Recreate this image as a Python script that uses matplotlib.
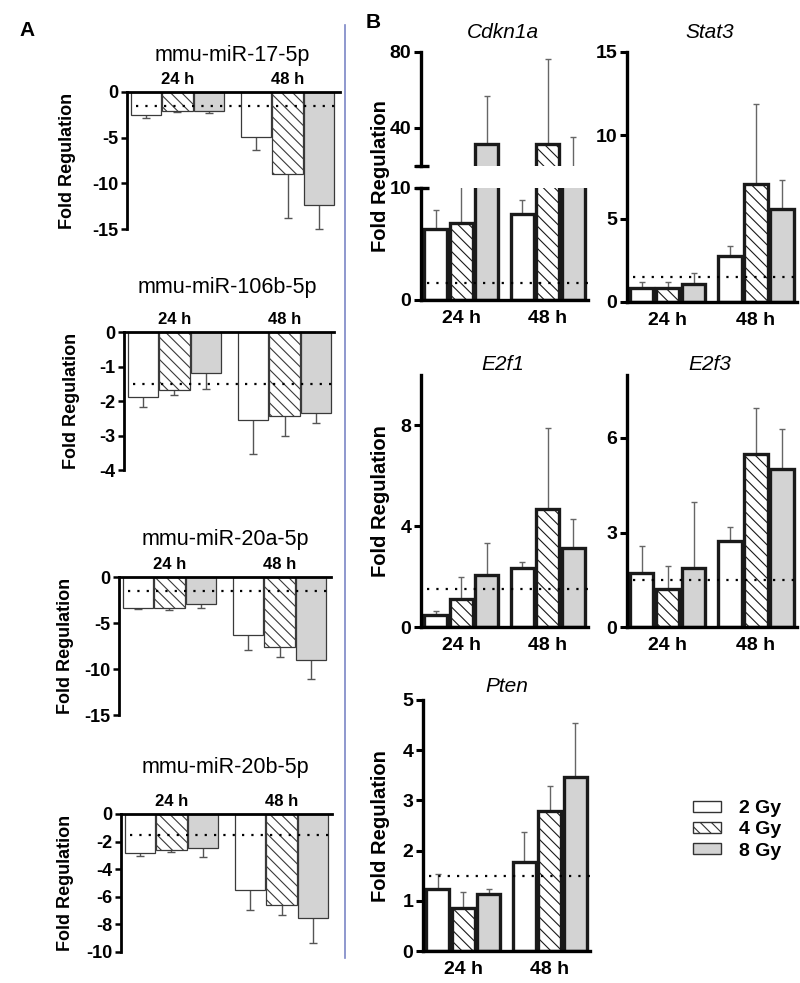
import matplotlib
matplotlib.use("Agg")
import matplotlib.pyplot as plt
from matplotlib.patches import Patch
from matplotlib.lines import Line2D
import numpy as np

plt.rcParams['font.family'] = ['Liberation Sans', 'DejaVu Sans']
plt.rcParams['axes.unicode_minus'] = False
plt.rcParams['hatch.linewidth'] = 0.8

# ---------------- data ----------------
groups = ['24 h', '48 h']
doses = ['2 Gy', '4 Gy', '8 Gy']

# Panel A (order: 24h 2/4/8 Gy, 48h 2/4/8 Gy)
mir17_title = 'mmu-miR-17-5p'
mir17_val = [-2.5, -2.1, -2.1, -4.9, -8.95, -12.4]
mir17_sem = [0.3, 0.1, 0.2, 1.5, 4.9, 2.65]

mir106b_title = 'mmu-miR-106b-5p'
mir106b_val = [-1.88, -1.68, -1.19, -2.55, -2.44, -2.36]
mir106b_sem = [0.29, 0.14, 0.46, 0.98, 0.56, 0.27]

mir20a_title = 'mmu-miR-20a-5p'
mir20a_val = [-3.4, -3.4, -2.9, -6.3, -7.65, -8.98]
mir20a_sem = [0.1, 0.2, 0.5, 1.6, 1.05, 2.1]

mir20b_title = 'mmu-miR-20b-5p'
mir20b_val = [-2.84, -2.6, -2.45, -5.53, -6.6, -7.52]
mir20b_sem = [0.21, 0.16, 0.65, 1.42, 0.73, 1.83]

# Panel B
cdkn1a_val = [6.35, 6.9, 31.6, 7.7, 31.6, 17.0]
cdkn1a_sem = [1.65, 8.0, 25.4, 1.2, 44.7, 18.5]

stat3_val = [0.86, 0.86, 1.1, 2.76, 7.1, 5.6]
stat3_sem = [0.34, 0.34, 0.66, 0.58, 4.76, 1.74]

e2f1_val = [0.49, 1.13, 2.06, 2.33, 4.68, 3.12]
e2f1_sem = [0.16, 0.84, 1.26, 0.23, 3.22, 1.18]

e2f3_val = [1.72, 1.22, 1.87, 2.73, 5.48, 5.01]
e2f3_sem = [0.85, 0.71, 2.11, 0.45, 1.47, 1.29]

pten_val = [1.24, 0.86, 1.13, 1.77, 2.79, 3.47]
pten_sem = [0.29, 0.31, 0.11, 0.6, 0.5, 1.08]

threshold = 1.5

# ---------------- figure ----------------
W, H = 800, 983
fig = plt.figure(figsize=(8, 9.83), dpi=100)


def px_axes(x0, x1, ytop, ybot):
    return fig.add_axes([x0 / W, 1 - ybot / H, (x1 - x0) / W, (ybot - ytop) / H])


def ftext(x, y, s, **kw):
    fig.text(x / W, 1 - y / H, s, **kw)


HATCH = '\\\\\\'
styles = [dict(facecolor='white'), dict(facecolor='white', hatch=HATCH),
          dict(facecolor='#d3d3d3')]


def draw_bars(ax, xs, vals, sems, width, edge_lw, edgecolor, err_color, cap_ms,
              clip_caps=False):
    for i, (x, v, s) in enumerate(zip(xs, vals, sems)):
        ax.bar(x, v, width, edgecolor=edgecolor, linewidth=edge_lw, zorder=2,
               **styles[i % 3])
        end = v + np.sign(v) * s
        ax.vlines(x, v, end, color=err_color, lw=1.0, zorder=1.5)
        ax.plot([x], [end], marker='_', ms=cap_ms, mew=1.0, color=err_color,
                ls='none', clip_on=clip_caps, zorder=1.5)


# ---------------- Panel A ----------------
A_x = [0, 1, 2, 3.5, 4.5, 5.5]
A_specs = [
    (mir17_title, mir17_val, mir17_sem, (127, 340, 92, 229), -15, [0, -5, -10, -15], (232, 55), 68),
    (mir106b_title, mir106b_val, mir106b_sem, (124, 334, 332, 470), -4, [0, -1, -2, -3, -4], (227, 288), 72),
    (mir20a_title, mir20a_val, mir20a_sem, (119, 331, 577, 715), -15, [0, -5, -10, -15], (225, 540), 66),
    (mir20b_title, mir20b_val, mir20b_sem, (121, 332, 814, 952), -10, [0, -2, -4, -6, -8, -10], (225, 767), 65),
]

for title, vals, sems, box, ymin, ticks, tpos, ylx in A_specs:
    ax = px_axes(*box)
    draw_bars(ax, A_x, vals, sems, 0.97, 0.9, '#3a3a3a', '#555555', 6)
    ax.set_ylim(ymin, 0)
    ax.set_xlim(-0.6, -0.6 + (box[1] - box[0]) / 31.5)
    ax.set_yticks(ticks)
    ax.set_yticklabels([str(t) for t in ticks])
    ax.set_xticks([])
    for sp in ['bottom', 'right']:
        ax.spines[sp].set_visible(False)
    for sp in ['top', 'left']:
        ax.spines[sp].set_linewidth(2.0)
    ax.tick_params(axis='y', length=4, width=1.8, labelsize=13, pad=2)
    for lab in ax.get_yticklabels():
        lab.set_fontweight('bold')
    ax.set_facecolor('none')
    ax.plot([-0.3, 6.05], [-threshold, -threshold], ls=(0, (1, 3.2)), lw=1.6,
            color='black', zorder=4)
    trans = ax.get_xaxis_transform()
    ax.text(np.mean(A_x[0:3]), 1.035, groups[0], transform=trans, ha='center',
            va='bottom', fontsize=12, fontweight='bold')
    ax.text(np.mean(A_x[3:6]), 1.035, groups[1], transform=trans, ha='center',
            va='bottom', fontsize=12, fontweight='bold')
    ftext(tpos[0], tpos[1], title, ha='center', va='center', fontsize=15.5)
    ftext(ylx, (box[2] + box[3]) / 2, 'Fold Regulation', rotation=90,
          ha='center', va='center', fontsize=13, fontweight='bold')

ftext(27, 30, 'A', ha='center', va='center', fontsize=15, fontweight='bold')

# ---------------- Panel B ----------------
B_x = [0, 1, 2, 3.4, 4.4, 5.4]
B_xlim = (-0.57, 5.98)


def style_B(ax, ylim, ticks, xlabels=True, bottom=True):
    ax.set_ylim(*ylim)
    ax.set_xlim(*B_xlim)
    ax.set_yticks(ticks)
    ax.set_yticklabels([str(t) for t in ticks])
    for sp in ['top', 'right']:
        ax.spines[sp].set_visible(False)
    ax.spines['left'].set_linewidth(2.4)
    ax.spines['bottom'].set_linewidth(2.4)
    if not bottom:
        ax.spines['bottom'].set_visible(False)
    ax.tick_params(axis='y', length=5, width=2.2, labelsize=14, pad=2)
    ax.tick_params(axis='x', length=0, labelsize=14, pad=7)
    if xlabels:
        ax.set_xticks([np.mean(B_x[0:3]), np.mean(B_x[3:6])])
        ax.set_xticklabels(groups)
    else:
        ax.set_xticks([])
    for lab in ax.get_yticklabels() + ax.get_xticklabels():
        lab.set_fontweight('bold')
    ax.set_facecolor('none')


def thresh_B(ax):
    ax.plot([-0.33, B_xlim[1]], [threshold, threshold], ls=(0, (1, 3.2)), lw=1.6,
            color='black', zorder=4)


def bars_B(ax, vals, sems, clip_caps=False):
    draw_bars(ax, B_x, vals, sems, 0.9, 2.4, '#1a1a1a', '#666666', 5, clip_caps)


# Cdkn1a: broken axis
ax_lo = px_axes(421, 588, 188, 300)
bars_B(ax_lo, cdkn1a_val, cdkn1a_sem, clip_caps=True)
style_B(ax_lo, (0, 10), [0, 10])
thresh_B(ax_lo)
ax_lo.plot([-0.035, 0.05], [1, 1], transform=ax_lo.transAxes, color='black',
           lw=2.4, clip_on=False, solid_capstyle='butt')

ax_hi = px_axes(421, 588, 52, 166)
bars_B(ax_hi, cdkn1a_val, cdkn1a_sem, clip_caps=True)
style_B(ax_hi, (20, 80), [20, 40, 80], xlabels=False, bottom=False)
ax_hi.set_yticklabels(['', '40', '80'])
for lab in ax_hi.get_yticklabels():
    lab.set_fontweight('bold')
ax_hi.plot([-0.035, 0.05], [0, 0], transform=ax_hi.transAxes, color='black',
           lw=2.4, clip_on=False, solid_capstyle='butt')
ftext(503, 33, 'Cdkn1a', ha='center', va='center', fontsize=15, style='italic')
ftext(381, 176, 'Fold Regulation', rotation=90, ha='center', va='center',
      fontsize=14.5, fontweight='bold')

# Stat3
ax = px_axes(627, 797, 52, 302)
bars_B(ax, stat3_val, stat3_sem)
style_B(ax, (0, 15), [0, 5, 10, 15])
thresh_B(ax)
ftext(710, 33, 'Stat3', ha='center', va='center', fontsize=15, style='italic')

# E2f1
ax = px_axes(421, 588, 375, 627)
bars_B(ax, e2f1_val, e2f1_sem)
style_B(ax, (0, 10), [0, 4, 8])
thresh_B(ax)
ftext(503, 365, 'E2f1', ha='center', va='center', fontsize=15, style='italic')
ftext(381, 501, 'Fold Regulation', rotation=90, ha='center', va='center',
      fontsize=14.5, fontweight='bold')

# E2f3
ax = px_axes(627, 797, 375, 627)
bars_B(ax, e2f3_val, e2f3_sem)
style_B(ax, (0, 8), [0, 3, 6])
thresh_B(ax)
ftext(710, 365, 'E2f3', ha='center', va='center', fontsize=15, style='italic')

# Pten
ax = px_axes(423, 590, 700, 951)
bars_B(ax, pten_val, pten_sem)
style_B(ax, (0, 5), [0, 1, 2, 3, 4, 5])
thresh_B(ax)
ftext(507, 687, 'Pten', ha='center', va='center', fontsize=15, style='italic')
ftext(381, 826, 'Fold Regulation', rotation=90, ha='center', va='center',
      fontsize=14.5, fontweight='bold')

ftext(373, 22, 'B', ha='center', va='center', fontsize=15, fontweight='bold')

# legend
handles = [Patch(edgecolor='#333333', linewidth=1.0, **styles[i]) for i in range(3)]
fig.legend(handles, doses, loc='center left', bbox_to_anchor=(693 / W, 1 - 830 / H),
           frameon=False, prop=dict(weight='bold', size=14), handlelength=1.45,
           handleheight=0.5, labelspacing=0.22, handletextpad=0.9,
           borderpad=0, borderaxespad=0)

# divider line
fig.add_artist(Line2D([345 / W, 345 / W], [1 - 25 / H, 1 - 958 / H],
                      transform=fig.transFigure, color='#7b86c6', lw=1.2))

fig.savefig('out.png', dpi=100, facecolor='white')
